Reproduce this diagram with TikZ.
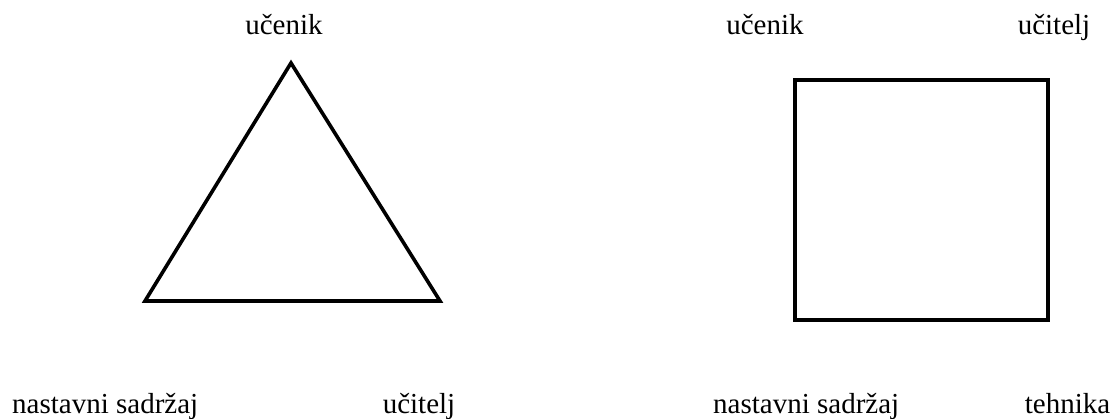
\documentclass[tikz,border=0pt]{standalone}
\usepackage{fontspec}
\setmainfont{Liberation Serif}
\begin{document}
\begin{tikzpicture}[x=1pt,y=-1pt,
  lbl/.style={anchor=base,inner sep=0pt,font=\fontsize{29}{31}\selectfont},
  shapeline/.style={line width=3.6pt,line join=miter}]
\useasboundingbox (0,0) rectangle (1113,419);
% triangle
\coordinate (tA) at (291,63);
\coordinate (tB) at (145,301);
\coordinate (tC) at (440,301);
\draw[shapeline] (tA) -- (tB) -- (tC) -- cycle;
\node[lbl] (t1) at (284,35) {učenik};
\node[lbl,anchor=base west] (t2) at (12,413) {nastavni sadržaj};
\node[lbl] (t3) at (419,413) {učitelj};
% square
\node[draw,shapeline,minimum width=253pt,minimum height=240pt,inner sep=0pt] (sq) at (921.5,200) {};
\node[lbl] (s1) at (765,35) {učenik};
\node[lbl] (s2) at (1054,35) {učitelj};
\node[lbl,anchor=base west] (s3) at (713,413) {nastavni sadržaj};
\node[lbl] (s4) at (1067.5,413) {tehnika};
\end{tikzpicture}
\end{document}
